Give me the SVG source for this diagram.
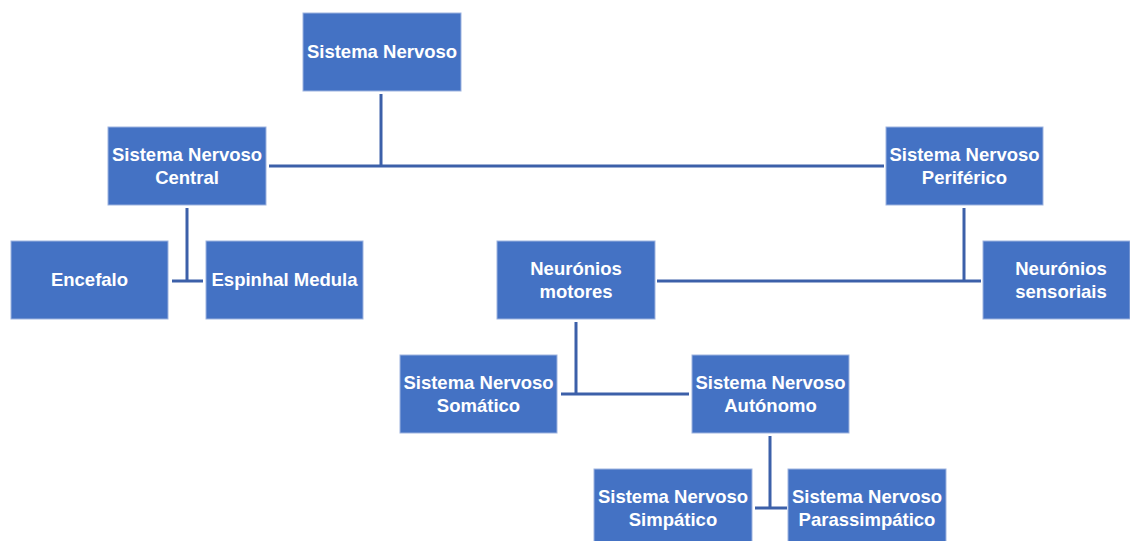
<svg xmlns="http://www.w3.org/2000/svg" width="1130" height="541" viewBox="0 0 1130 541">
<style>
.box{fill:#4472C4;stroke:#9DB3DF;stroke-width:1}
.t{fill:#FFFFFF;font-family:"Liberation Sans",Arial,sans-serif;font-weight:bold;font-size:18.5px;text-anchor:middle}
.c{stroke:#3C60A9;stroke-width:3;fill:none}
</style>
<rect width="1130" height="541" fill="#FFFFFF"/>
<g id="connectors">
<path class="c" d="M381,94 V166 M269,166 H884"/>
<path class="c" d="M187,208 V281 M172,281 H203"/>
<path class="c" d="M964,208 V281 M657,281 H981"/>
<path class="c" d="M576,322 V394 M561,394 H689"/>
<path class="c" d="M770,436 V508 M755,508 H787"/>
</g>
<g id="n-sn"><rect class="box" x="303" y="13" width="158" height="78"/><text class="t" x="382" y="58">Sistema Nervoso</text></g>
<g id="n-snc"><rect class="box" x="108" y="127" width="158" height="78"/><text class="t" x="187" y="161">Sistema Nervoso</text><text class="t" x="187" y="184">Central</text></g>
<g id="n-snp"><rect class="box" x="886" y="127" width="157" height="78"/><text class="t" x="964.5" y="161">Sistema Nervoso</text><text class="t" x="964.5" y="184">Periférico</text></g>
<g id="n-enc"><rect class="box" x="11" y="241" width="157" height="78"/><text class="t" x="89.5" y="286">Encefalo</text></g>
<g id="n-esp"><rect class="box" x="206" y="241" width="157" height="78"/><text class="t" x="284.5" y="286">Espinhal Medula</text></g>
<g id="n-nm"><rect class="box" x="497" y="241" width="158" height="78"/><text class="t" x="576" y="275">Neurónios</text><text class="t" x="576" y="298">motores</text></g>
<g id="n-ns"><rect class="box" x="983" y="241" width="147" height="78"/><text class="t" x="1061" y="275">Neurónios</text><text class="t" x="1061" y="298">sensoriais</text></g>
<g id="n-som"><rect class="box" x="400" y="355" width="157" height="78"/><text class="t" x="478.5" y="389">Sistema Nervoso</text><text class="t" x="478.5" y="412">Somático</text></g>
<g id="n-aut"><rect class="box" x="692" y="355" width="157" height="78"/><text class="t" x="770.5" y="389">Sistema Nervoso</text><text class="t" x="770.5" y="412">Autónomo</text></g>
<g id="n-sim"><rect class="box" x="594" y="469" width="158" height="78"/><text class="t" x="673" y="503">Sistema Nervoso</text><text class="t" x="673" y="526">Simpático</text></g>
<g id="n-par"><rect class="box" x="788" y="469" width="158" height="78"/><text class="t" x="867" y="503">Sistema Nervoso</text><text class="t" x="867" y="526">Parassimpático</text></g>
</svg>
